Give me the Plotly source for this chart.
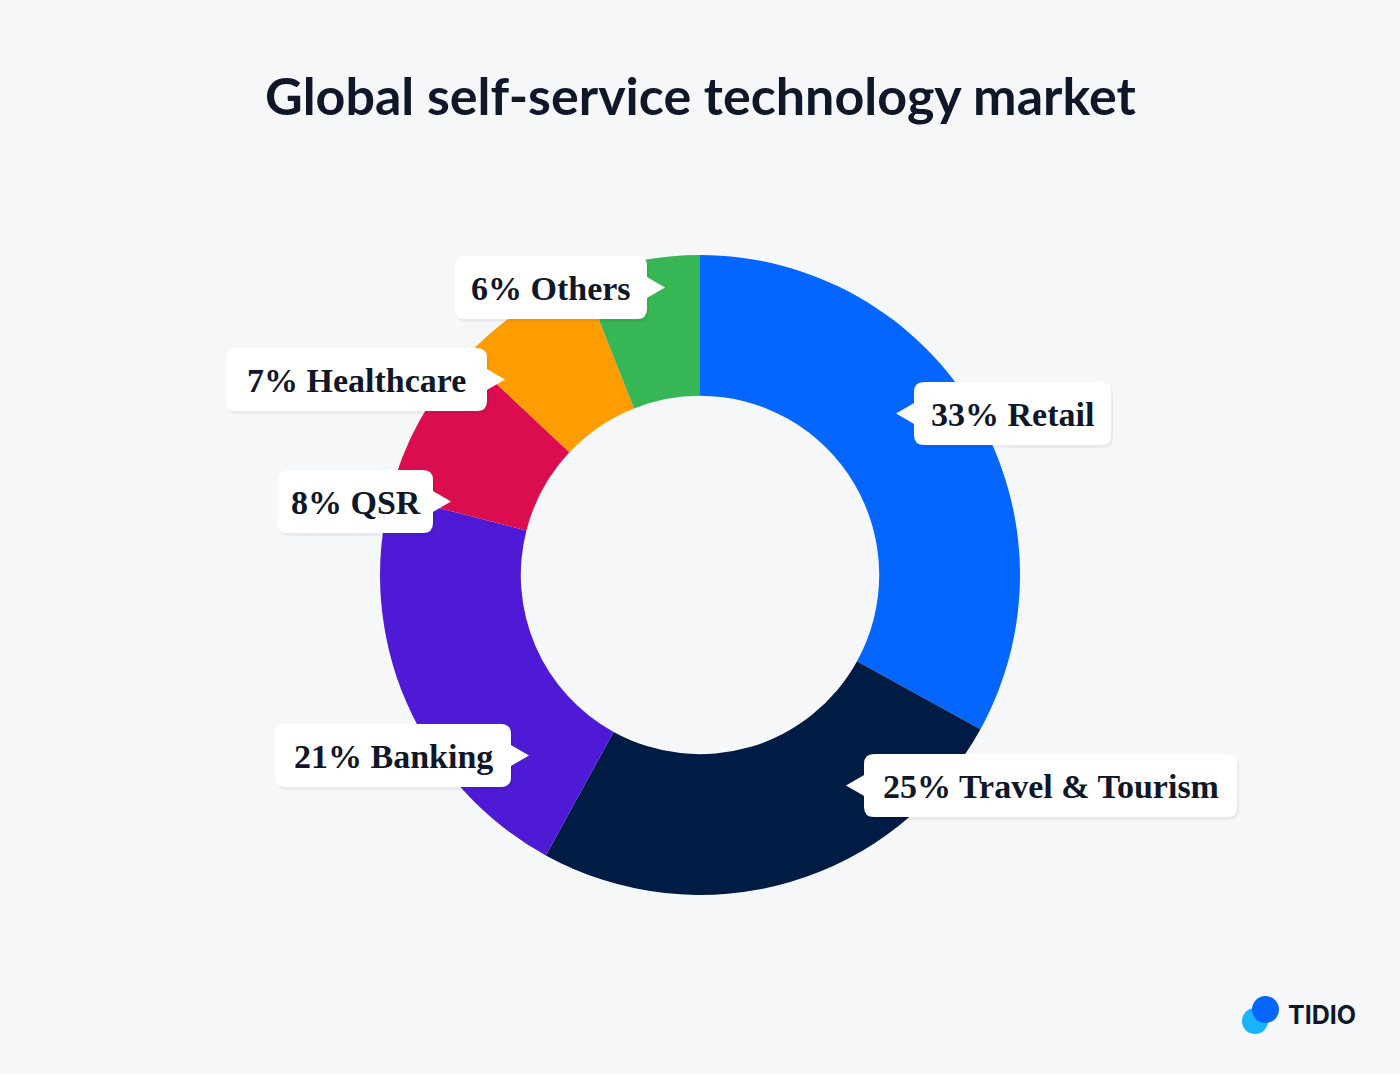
import plotly.graph_objects as go

# data
labels = ["Retail", "Travel & Tourism", "Banking", "QSR", "Healthcare", "Others"]
values = [33, 25, 21, 8, 7, 6]
colors = ["#0565FF", "#001C45", "#4F1AD6", "#DC0D4E", "#FF9D00", "#37B656"]

W, H = 1400, 1074
BG = "#F5F7F9"

# label boxes: (x0, y0, x1, y1, pointer side) in pixels
boxes = {
    "Retail": (914, 382, 1111, 445, "left"),
    "Travel & Tourism": (864, 754, 1237, 817, "left"),
    "Banking": (275, 724, 511, 787, "right"),
    "QSR": (278, 470, 433, 533, "right"),
    "Healthcare": (226, 348, 487, 411, "right"),
    "Others": (455, 256, 647, 319, "right"),
}

cx, cy, r = 700, 575, 320

fig = go.Figure()
fig.add_trace(go.Pie(
    labels=labels, values=values, hole=0.56, sort=False, direction="clockwise",
    rotation=0, marker=dict(colors=colors, line=dict(width=0)),
    textinfo="none", hoverinfo="label+percent", showlegend=False,
    domain=dict(x=[(cx - r) / W, (cx + r) / W], y=[1 - (cy + r) / H, 1 - (cy - r) / H]),
))


def rrect(x0, y0, x1, y1, rad=10):
    return (f"M{x0+rad},{y0} L{x1-rad},{y0} Q{x1},{y0} {x1},{y0+rad} "
            f"L{x1},{y1-rad} Q{x1},{y1} {x1-rad},{y1} L{x0+rad},{y1} "
            f"Q{x0},{y1} {x0},{y1-rad} L{x0},{y0+rad} Q{x0},{y0} {x0+rad},{y0} Z")


shapes = []
annotations = []
for lab, v in zip(labels, values):
    x0, y0, x1, y1, side = boxes[lab]
    ym = (y0 + y1) / 2
    shapes.append(dict(type="path", path=rrect(x0 + 2, y0 + 3, x1 + 2, y1 + 3), xref="x", yref="y",
                       fillcolor="rgba(0,0,0,0.05)", line=dict(width=0), layer="above"))
    shapes.append(dict(type="path", path=rrect(x0, y0, x1, y1), xref="x", yref="y",
                       fillcolor="white", line=dict(width=0), layer="above"))
    if side == "right":
        tri = f"M{x1-1},{ym-11} L{x1+18},{ym} L{x1-1},{ym+11} Z"
    else:
        tri = f"M{x0+1},{ym-11} L{x0-18},{ym} L{x0+1},{ym+11} Z"
    shapes.append(dict(type="path", path=tri, xref="x", yref="y",
                       fillcolor="white", line=dict(width=0), layer="above"))
    annotations.append(dict(x=(x0 + x1) / 2, y=ym + 1, xref="x", yref="y", text=f"<b>{v}% {lab}</b>",
                            showarrow=False, font=dict(family="Liberation Serif", size=34, color="#0F1729")))

annotations.append(dict(x=700, y=95, xref="x", yref="y", text="<b>Global self-service technology market</b>",
                        showarrow=False, font=dict(family="Lato", size=52, color="#0F1729")))

# logo
shapes.append(dict(type="circle", x0=1242, y0=1008, x1=1268, y1=1034, xref="x", yref="y",
                   fillcolor="#19B3FF", line=dict(width=0)))
shapes.append(dict(type="circle", x0=1252, y0=996, x1=1279, y1=1023, xref="x", yref="y",
                   fillcolor="#0565FF", line=dict(width=0)))
annotations.append(dict(x=1322, y=1015, xref="x", yref="y", text="<b>TIDIO</b>", showarrow=False,
                        font=dict(family="Inter", size=25, color="#0F1729")))

fig.update_layout(
    width=W, height=H, margin=dict(l=0, r=0, t=0, b=0),
    paper_bgcolor=BG, plot_bgcolor=BG,
    xaxis=dict(range=[0, W], visible=False, fixedrange=True),
    yaxis=dict(range=[H, 0], visible=False, fixedrange=True),
    shapes=shapes, annotations=annotations,
)

fig.write_html("out.html", config={"displayModeBar": False},
               post_script="document.body.style.margin='0';document.body.style.background='#F5F7F9';")
